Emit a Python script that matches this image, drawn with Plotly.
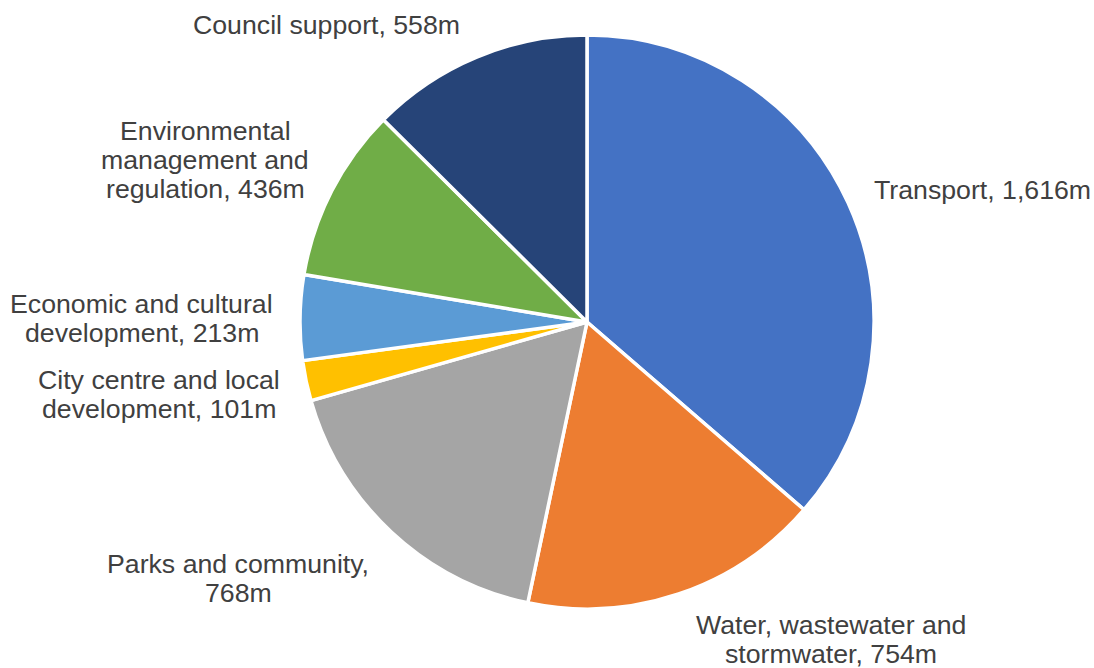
import plotly.graph_objects as go

W, H = 1094, 668

categories = [
    "Transport",
    "Water, wastewater and stormwater",
    "Parks and community",
    "City centre and local development",
    "Economic and cultural development",
    "Environmental management and regulation",
    "Council support",
]
values = [1616, 754, 768, 101, 213, 436, 558]
colors = ["#4472C4", "#ED7D31", "#A5A5A5", "#FFC000", "#5B9BD5", "#70AD47", "#264478"]

# label line breaks as displayed
label_lines = [
    ["Transport, 1,616m"],
    ["Water, wastewater and", "stormwater, 754m"],
    ["Parks and community,", "768m"],
    ["City centre and local", "development, 101m"],
    ["Economic and cultural", "development, 213m"],
    ["Environmental", "management and", "regulation, 436m"],
    ["Council support, 558m"],
]
# label centre positions (pixels from top-left)
label_pos = [
    (982, 190),
    (831, 639),
    (238, 578),
    (159, 394),
    (142, 318),
    (205, 160),
    (326, 25),
]
line_gap = 29

cx, cy, r = 587, 322, 287

fig = go.Figure(go.Pie(
    labels=categories,
    values=values,
    sort=False,
    direction="clockwise",
    rotation=0,
    marker=dict(colors=colors, line=dict(color="white", width=3.5)),
    textinfo="none",
    hoverinfo="label+value",
    showlegend=False,
    domain=dict(x=[(cx - r) / W, (cx + r) / W], y=[1 - (cy + r) / H, 1 - (cy - r) / H]),
))

annotations = []
for lines, (px, py) in zip(label_lines, label_pos):
    n = len(lines)
    for i, line in enumerate(lines):
        yy = py + (i - (n - 1) / 2) * line_gap
        annotations.append(dict(
            text=line, x=px / W, y=1 - yy / H, xref="paper", yref="paper",
            xanchor="center", yanchor="middle", showarrow=False,
            font=dict(family="Liberation Sans, Arial, sans-serif", size=26.7, color="#404040"),
        ))

fig.update_layout(
    width=W, height=H,
    margin=dict(l=0, r=0, t=0, b=0),
    paper_bgcolor="white", plot_bgcolor="white",
    annotations=annotations,
)

fig.write_html("out.html")
